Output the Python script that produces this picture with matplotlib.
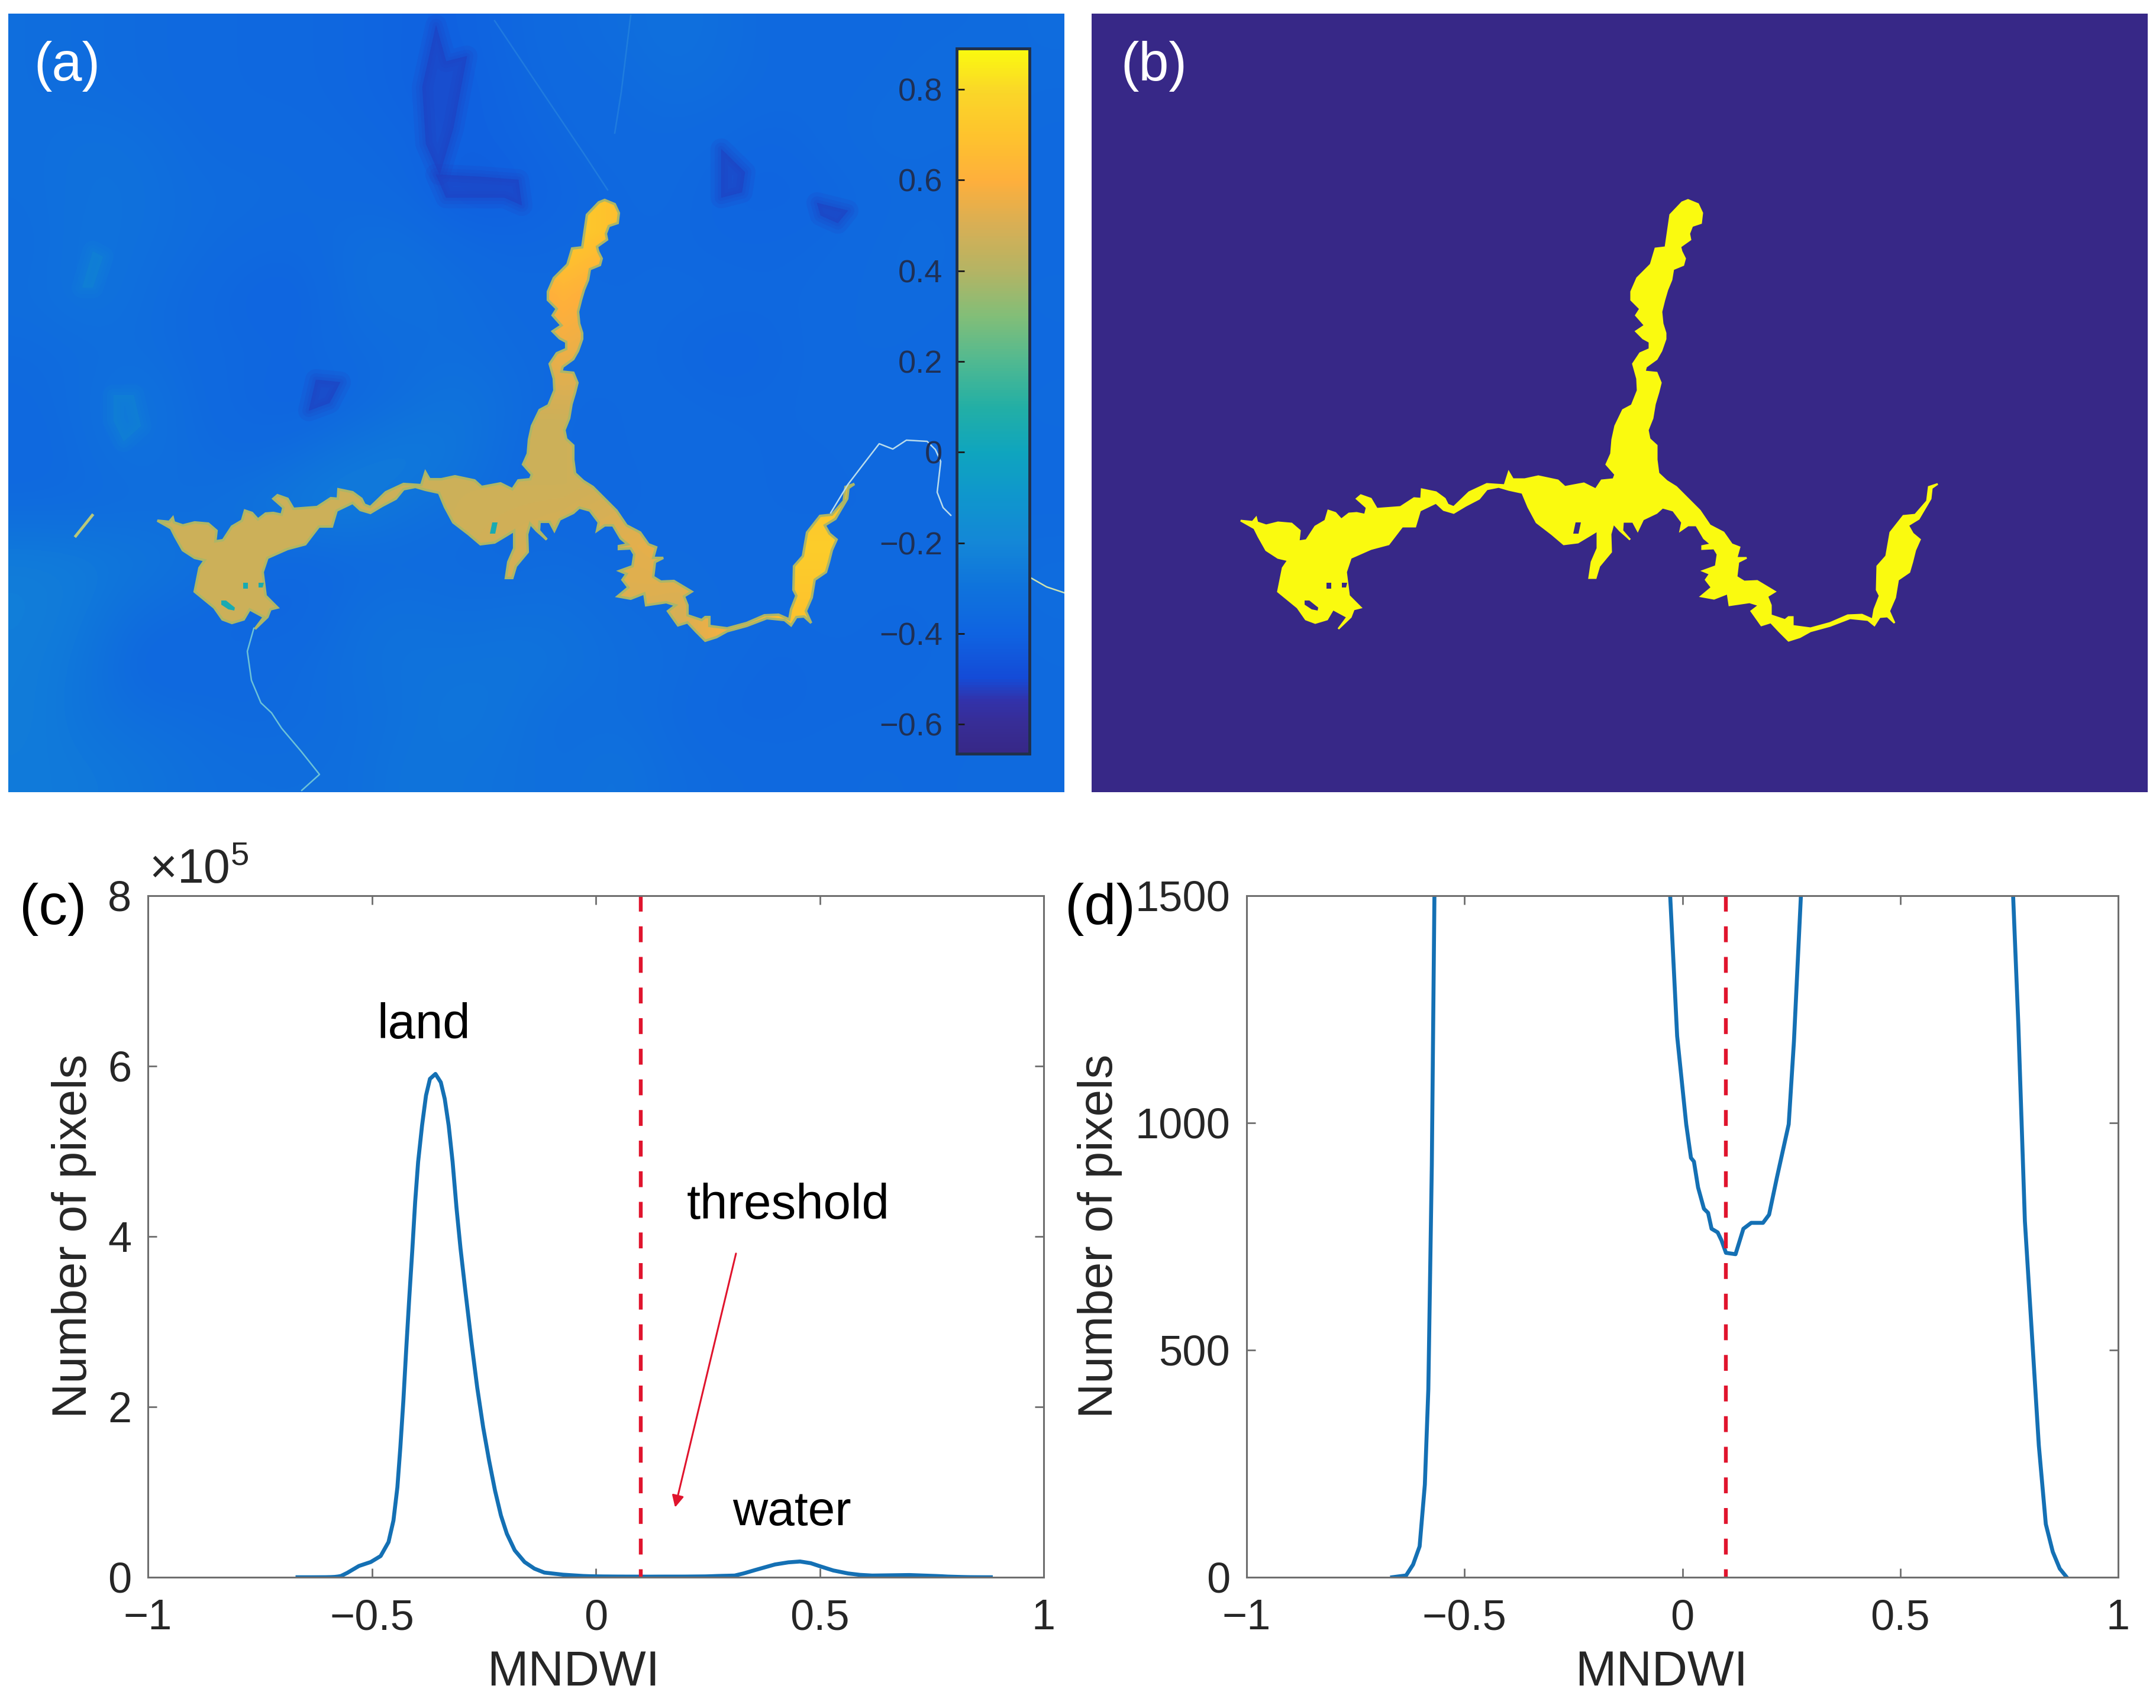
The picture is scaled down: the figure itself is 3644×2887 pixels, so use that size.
import numpy as np
import matplotlib
matplotlib.use("Agg")
import matplotlib.pyplot as plt
from matplotlib.colors import LinearSegmentedColormap, Normalize
from matplotlib.patches import Polygon

plt.rcParams["font.family"] = ["Liberation Sans", "DejaVu Sans"]
plt.rcParams["mathtext.default"] = "regular"
plt.rcParams["mathtext.fontset"] = "custom"
plt.rcParams["mathtext.rm"] = "Liberation Sans"

W, H = 3644, 2887

# MNDWI histogram, number of pixels per value
CURVE_X = [-.666, -.634, -.618, -.603, -.591, -.583, -.575, -.569, -.5552, -.5288, -.5024, -.4804, -.4628, -.4518,
           -.4430, -.4364, -.4297, -.4231, -.4165, -.4099, -.4033, -.3967, -.3879, -.3791, -.3703, -.3580, -.3461,
           -.3373, -.3285, -.3197, -.3109, -.3021, -.2911, -.2779, -.2647, -.2514, -.2382, -.2250, -.2118, -.1986,
           -.1810, -.1590, -.1370, -.1149, -.073, -.028, -.012, .0088, .0197, .0265, .036,
           .0495, .059, .067, .081, .09, .10, .122, .14, .158, .185, .199, .217, .244, .256, .272, .31, .33, .356, .40,
           .43, .456, .48, .50, .53, .563, .59, .617, .70, .759, .771, .786, .802, .818, .834, .85, .866, .882]
CURVE_Y = [0, 4, 28, 68, 204, 414, 907, 1500, 5070, 13250, 17900, 24900, 41300, 66600,
           105600, 152400, 206900, 269300, 327700, 382300, 440700, 487500, 530400, 565500, 585000, 590800, 581000,
           561600, 530400, 487500, 433000, 386200, 335500, 277100, 222500, 175800, 136800, 101700, 72500, 51100,
           31600, 17900, 10100, 5500, 3000, 1500, 1191, 997, 923, 915, 858,
           811, 802, 767, 759, 741, 714, 711, 767, 780, 780, 798, 880, 997, 1179, 1500, 2000, 4500, 8500, 15000,
           17500, 18500, 16500, 13000, 8000, 4500, 2800, 2000, 2600, 1500, 1216, 784, 537, 290, 117, 56, 19, 0]
THRESHOLD = 0.1

X_TICKS = [-1, -0.5, 0, 0.5, 1]
X_LABELS = ["\u22121", "\u22120.5", "0", "0.5", "1"]
C_Y_TICKS = [0, 2e5, 4e5, 6e5, 8e5]
C_Y_LABELS = ["0", "2", "4", "6", "8"]
D_Y_TICKS = [0, 500, 1000, 1500]
D_Y_LABELS = ["0", "500", "1000", "1500"]
CBAR_TICKS = [-0.6, -0.4, -0.2, 0, 0.2, 0.4, 0.6, 0.8]
CBAR_LABELS = ["\u22120.6", "\u22120.4", "\u22120.2", "0", "0.2", "0.4", "0.6", "0.8"]

# colours
CMAP_VALUES = [-.665, -.6, -.55, -.5, -.4, -.3, -.2, -.1, 0, .1, .2, .3, .4, .5, .6, .7, .8, .89]
CMAP_COLORS = [(55, 40, 135), (55, 45, 150), (50, 50, 170), (20, 75, 215), (15, 100, 225), (15, 115, 220),
               (20, 135, 215), (15, 150, 205), (15, 165, 190), (35, 175, 165), (80, 185, 145), (130, 190, 120),
               (180, 180, 100), (215, 175, 85), (254, 175, 60), (254, 195, 45), (250, 215, 40), (250, 250, 15)]

# land MNDWI estimated on a coarse grid, top row first
LAND = [
    [-.33, -.34, -.35, -.36, -.37, -.37, -.38, -.40, -.41, -.38, -.35, -.34, -.31, -.33, -.36, -.37, -.36, -.35, -.35, -.34],
    [-.33, -.34, -.35, -.36, -.37, -.37, -.38, -.40, -.42, -.39, -.36, -.36, -.33, -.34, -.36, -.36, -.35, -.34, -.34, -.35],
    [-.33, -.31, -.32, -.35, -.36, -.36, -.37, -.38, -.41, -.40, -.37, -.36, -.36, -.37, -.39, -.36, -.34, -.35, -.35, -.36],
    [-.33, -.31, -.31, -.34, -.34, -.35, -.36, -.37, -.43, -.42, -.39, -.37, -.36, -.39, -.39, -.39, -.36, -.35, -.36, -.36],
    [-.34, -.30, -.32, -.34, -.36, -.37, -.33, -.32, -.36, -.38, -.37, -.37, -.37, -.38, -.38, -.37, -.35, -.34, -.36, -.36],
    [-.33, -.30, -.33, -.36, -.39, -.40, -.33, -.32, -.33, -.36, -.36, -.37, -.36, -.36, -.37, -.36, -.35, -.35, -.36, -.35],
    [-.35, -.34, -.33, -.36, -.37, -.38, -.35, -.34, -.33, -.35, -.36, -.36, -.37, -.40, -.38, -.36, -.35, -.36, -.37, -.36],
    [-.36, -.33, -.29, -.35, -.38, -.40, -.37, -.33, -.29, -.33, -.37, -.37, -.36, -.37, -.37, -.36, -.37, -.37, -.36, -.35],
    [-.37, -.34, -.31, -.34, -.36, -.33, -.28, -.25, -.28, -.35, -.37, -.37, -.36, -.36, -.37, -.37, -.36, -.35, -.36, -.36],
    [-.35, -.35, -.34, -.33, -.30, -.26, -.24, -.30, -.33, -.35, -.37, -.38, -.36, -.36, -.37, -.37, -.37, -.36, -.36, -.36],
    [-.25, -.26, -.28, -.31, -.35, -.37, -.36, -.35, -.35, -.36, -.34, -.36, -.35, -.36, -.36, -.36, -.36, -.36, -.35, -.34],
    [-.24, -.27, -.33, -.35, -.38, -.39, -.33, -.31, -.33, -.32, -.32, -.34, -.35, -.35, -.37, -.36, -.37, -.37, -.35, -.34],
    [-.25, -.29, -.38, -.38, -.36, -.35, -.32, -.30, -.30, -.29, -.30, -.33, -.34, -.36, -.38, -.37, -.37, -.37, -.36, -.35],
    [-.25, -.30, -.33, -.34, -.36, -.35, -.33, -.31, -.28, -.30, -.34, -.33, -.35, -.38, -.38, -.37, -.37, -.36, -.36, -.35],
    [-.26, -.27, -.29, -.32, -.33, -.33, -.33, -.29, -.30, -.31, -.33, -.30, -.34, -.35, -.36, -.36, -.35, -.36, -.35, -.35],
]

# darker and lighter land patches too small for the grid
DARK_1_X = [2568, 2585, 2620, 2597, 2574, 2551, 2545]
DARK_1_Y = [43, 104, 95, 217, 295, 243, 147]
DARK_2_X = [2568, 2644, 2707, 2713, 2684, 2585]
DARK_2_Y = [295, 299, 304, 347, 334, 334]
DARK_3_X = [2365, 2406, 2388, 2353]
DARK_3_Y = [642, 646, 681, 694]
DARK_4_X = [3050, 3090, 3085, 3050]
DARK_4_Y = [252, 291, 325, 334]
DARK_5_X = [3212, 3264, 3247, 3218]
DARK_5_Y = [343, 356, 377, 364]
LIGHT_1_X = [2023, 2057, 2069, 2040, 2023]
LIGHT_1_Y = [668, 668, 720, 746, 711]
LIGHT_2_X = [1970, 1988, 2005, 1988]
LIGHT_2_Y = [486, 425, 434, 486]
DARK_VALUE = -0.52
LIGHT_VALUE = -0.18

# water MNDWI estimated over the lake bounding box
LAKE_VALUES = [
    [.48, .48, .48, .75, .60, .60],
    [.48, .48, .48, .62, .50, .50],
    [.48, .48, .48, .55, .50, .50],
    [.47, .47, .47, .47, .50, .50],
    [.46, .47, .47, .47, .50, .68],
    [.47, .47, .47, .50, .55, .75],
    [.47, .47, .47, .53, .50, .70],
]
LAKE_EDGE_VALUE = 0.38

# lake outline, image pixels
LAKE_NORTH_EAST = [(2853, 338), (2870, 345), (2877, 360), (2875, 377), (2860, 382), (2855, 395), (2857, 405), (2840, 417),
                   (2842, 425), (2848, 437), (2845, 448), (2828, 455), (2825, 473), (2818, 490), (2813, 507), (2808, 527),
                   (2810, 547), (2815, 563), (2815, 573), (2808, 593), (2800, 607), (2782, 620), (2780, 628), (2800, 630),
                   (2807, 647), (2803, 663), (2797, 683), (2793, 707), (2785, 727), (2788, 742), (2800, 753), (2800, 777),
                   (2803, 800), (2817, 813), (2833, 823), (2853, 843), (2873, 863), (2890, 888), (2913, 900), (2927, 920)]
LAKE_EAST = [(2940, 925), (2935, 943), (2952, 943), (2938, 950), (2935, 975), (2948, 983), (2970, 982), (3000, 1000),
             (2987, 1008), (2993, 1023), (2993, 1040), (3017, 1048), (3023, 1043), (3030, 1043), (3030, 1058), (3060, 1062),
             (3093, 1053), (3123, 1040), (3147, 1039), (3165, 1047), (3168, 1030), (3177, 1007), (3172, 997), (3173, 957),
             (3188, 940), (3195, 900), (3217, 872), (3237, 870), (3257, 847), (3260, 823), (3275, 818), (3265, 825),
             (3263, 843), (3243, 877), (3225, 888), (3233, 902), (3245, 912), (3237, 930), (3232, 950), (3227, 967),
             (3208, 980), (3203, 1010), (3193, 1033), (3202, 1053), (3190, 1042), (3177, 1043), (3168, 1057), (3157, 1048),
             (3127, 1045), (3093, 1058), (3060, 1067), (3042, 1077), (3023, 1083), (3007, 1067), (2993, 1052), (2977, 1057),
             (2960, 1033), (2973, 1023), (2957, 1018), (2923, 1023), (2920, 1003), (2897, 1012), (2875, 1008), (2893, 993),
             (2883, 980), (2890, 970), (2878, 965), (2900, 957), (2903, 937), (2897, 927), (2877, 928), (2877, 923), (2892, 920)]
LAKE_CENTRE_SOUTH = [(2880, 910), (2867, 888), (2853, 888), (2840, 897), (2843, 883), (2828, 863), (2810, 858), (2800, 867),
                     (2777, 878), (2768, 897), (2760, 882), (2743, 882), (2742, 897), (2755, 912), (2738, 897), (2727, 885),
                     (2722, 903), (2723, 933), (2703, 957), (2697, 977), (2686, 977), (2690, 950), (2700, 927), (2700, 897),
                     (2687, 905), (2667, 917), (2643, 920), (2623, 903), (2597, 883), (2583, 857), (2573, 833), (2550, 828),
                     (2533, 823), (2513, 827)]
LAKE_WEST = [(2500, 843), (2477, 855), (2457, 867), (2440, 862), (2427, 850), (2400, 863), (2392, 890), (2370, 890),
             (2347, 920), (2317, 928), (2283, 943), (2275, 967), (2280, 1007), (2293, 1020), (2300, 1027), (2288, 1030),
             (2283, 1043), (2262, 1063), (2277, 1043), (2253, 1030), (2243, 1047), (2223, 1053), (2207, 1047), (2193, 1027),
             (2160, 1000), (2168, 960), (2177, 947), (2160, 943), (2140, 930), (2127, 907), (2120, 893), (2097, 880),
             (2117, 882), (2123, 875), (2125, 883), (2140, 888), (2160, 883), (2183, 885), (2197, 897), (2195, 915),
             (2208, 913), (2223, 890), (2240, 880), (2245, 863), (2257, 867), (2267, 878), (2280, 868), (2293, 867),
             (2307, 870), (2310, 858), (2293, 843), (2300, 837), (2317, 843), (2327, 860), (2367, 857), (2390, 842),
             (2402, 843), (2403, 827), (2427, 832), (2442, 843), (2447, 853), (2457, 857), (2483, 832), (2513, 818), (2543, 820)]
LAKE_CENTRE_NORTH = [(2550, 798), (2557, 810), (2577, 810), (2600, 805), (2633, 812), (2645, 823), (2677, 817), (2697, 827),
                     (2707, 812), (2727, 810), (2730, 802), (2715, 785), (2723, 767), (2725, 743), (2730, 720), (2743, 693),
                     (2758, 685), (2768, 660), (2767, 640), (2760, 615), (2772, 597), (2788, 590), (2788, 578), (2777, 572),
                     (2765, 560), (2780, 550), (2765, 533), (2772, 522), (2757, 507), (2757, 493), (2767, 470), (2790, 447),
                     (2798, 420), (2815, 418), (2823, 363), (2843, 342)]
LAKE_HOLES = [
    [(2242, 985), (2250, 985), (2250, 995), (2242, 995)],
    [(2268, 985), (2277, 985), (2275, 993), (2268, 993)],
    [(2205, 1015), (2213, 1015), (2228, 1027), (2227, 1032), (2217, 1030), (2205, 1022)],
    [(2663, 883), (2672, 883), (2668, 902), (2659, 902)],
]

# thin rivers in panel (a), same pixels
RIVER_EAST_X = [3235, 3264, 3290, 3317, 3340, 3363, 3398, 3412, 3421, 3415, 3425, 3438]
RIVER_EAST_Y = [867, 819, 785, 750, 759, 744, 746, 760, 780, 832, 858, 871]
RIVER_EDGE_X = [3572, 3600, 3630]
RIVER_EDGE_Y = [976, 992, 1002]
RIVER_SOUTH_X = [2260, 2249, 2256, 2272, 2290, 2307, 2340, 2371, 2341]
RIVER_SOUTH_Y = [1062, 1101, 1150, 1188, 1205, 1231, 1270, 1309, 1336]
STREAK_X = [1959, 1987]
STREAK_Y = [906, 871]
TRACK_1_X = [2667, 2748, 2818, 2858]
TRACK_1_Y = [35, 156, 260, 321]
TRACK_2_X = [2897, 2881, 2870]
TRACK_2_Y = [26, 156, 225]

MAP_XLIM = (1845, 3630)
MAP_YLIM = (1339, 23)
LAKE_BOX = (2097, 3275, 1083, 338)

TEXT_DARK = "#262626"
AXES_GREY = "#6e6e6e"
LINE_BLUE = "#1470b4"
LINE_RED = "#e0142d"


def px_axes(fig, left, top, right, bottom):
    return fig.add_axes([left / W, 1 - bottom / H, (right - left) / W, (bottom - top) / H])


def fig_text(fig, x, y, s, **kw):
    fig.text(x / W, 1 - y / H, s, ha="center", va="center", **kw)


def soft_patch(ax, px, py, color, alpha):
    # a few wide translucent strokes so the patch fades out at its edge
    for lw in (26, 16, 8, 1):
        ax.fill(px, py, facecolor=color, edgecolor=color, linewidth=lw, alpha=alpha, joinstyle="round")


fig = plt.figure(figsize=(W / 100, H / 100), dpi=100, facecolor="white")

vmin, vmax = CMAP_VALUES[0], CMAP_VALUES[-1]
norm = Normalize(vmin, vmax)
parula = LinearSegmentedColormap.from_list(
    "parula_like",
    [((v - vmin) / (vmax - vmin), tuple(c / 255 for c in rgb)) for v, rgb in zip(CMAP_VALUES, CMAP_COLORS)],
    N=256,
)
lake_xy = np.array(LAKE_NORTH_EAST + LAKE_EAST + LAKE_CENTRE_SOUTH + LAKE_WEST + LAKE_CENTRE_NORTH)

# (a) MNDWI map
ax_a = px_axes(fig, 14, 23, 1799, 1339)
ax_a.imshow(np.array(LAND), cmap=parula, norm=norm, aspect="auto", interpolation="bicubic",
            extent=(MAP_XLIM[0], MAP_XLIM[1], MAP_YLIM[0], MAP_YLIM[1]))
for px, py in [(DARK_1_X, DARK_1_Y), (DARK_2_X, DARK_2_Y), (DARK_3_X, DARK_3_Y), (DARK_4_X, DARK_4_Y), (DARK_5_X, DARK_5_Y)]:
    soft_patch(ax_a, px, py, parula(norm(DARK_VALUE)), 0.16)
for px, py in [(LIGHT_1_X, LIGHT_1_Y), (LIGHT_2_X, LIGHT_2_Y)]:
    soft_patch(ax_a, px, py, parula(norm(LIGHT_VALUE)), 0.13)
ax_a.plot(TRACK_1_X, TRACK_1_Y, color="#3f9fe0", lw=1.8, alpha=0.35)
ax_a.plot(TRACK_2_X, TRACK_2_Y, color="#3f9fe0", lw=1.8, alpha=0.35)

# edge first, then the water values clipped to the outline
ax_a.add_patch(Polygon(lake_xy, closed=True, facecolor="none", edgecolor=parula(norm(LAKE_EDGE_VALUE)), linewidth=3))
outline = Polygon(lake_xy, closed=True, facecolor="none", edgecolor="none")
ax_a.add_patch(outline)
water = ax_a.imshow(np.array(LAKE_VALUES), cmap=parula, norm=norm, aspect="auto", interpolation="bilinear",
                    extent=LAKE_BOX)
water.set_clip_path(outline)
for hole in LAKE_HOLES:
    ax_a.fill(*zip(*hole), color=parula(norm(0.05)), linewidth=0)
ax_a.plot(RIVER_EAST_X, RIVER_EAST_Y, color="#b9dcec", lw=1.8)
ax_a.plot(RIVER_EDGE_X, RIVER_EDGE_Y, color="#cfe3b0", lw=1.8)
ax_a.plot(RIVER_SOUTH_X, RIVER_SOUTH_Y, color="#6cc2d8", lw=1.8)
ax_a.plot(STREAK_X, STREAK_Y, color="#b8c87a", lw=3.5)
ax_a.set_xlim(MAP_XLIM)
ax_a.set_ylim(MAP_YLIM)
ax_a.axis("off")

cax = px_axes(fig, 1617, 82, 1740, 1274)
sm = plt.cm.ScalarMappable(norm=norm, cmap=parula)
cbar = fig.colorbar(sm, cax=cax, orientation="vertical")
cax.yaxis.set_ticks_position("left")
cbar.set_ticks(CBAR_TICKS, labels=CBAR_LABELS)
cax.tick_params(axis="y", direction="in", length=9.5, width=2, color="#1a1a1a", pad=17,
                labelsize=39, labelcolor="#1f3055")
cbar.outline.set_edgecolor("#20304a")
cbar.outline.set_linewidth(3.5)

# (b) water mask
ax_b = px_axes(fig, 1845, 23, 3630, 1339)
ax_b.set_facecolor(parula(0.0))
ax_b.fill(lake_xy[:, 0], lake_xy[:, 1], facecolor=parula(1.0), edgecolor=parula(1.0), linewidth=2.2)
for hole in LAKE_HOLES:
    ax_b.fill(*zip(*hole), color=parula(0.0), linewidth=0)
ax_b.set_xlim(MAP_XLIM)
ax_b.set_ylim(MAP_YLIM)
ax_b.set_xticks([])
ax_b.set_yticks([])
for s in ax_b.spines.values():
    s.set_visible(False)

# (c) and (d) histograms
ax_c = px_axes(fig, 250, 1514, 1764, 2666)
ax_d = px_axes(fig, 2107, 1514, 3580, 2666)
for ax, yt, yl, ymax in [(ax_c, C_Y_TICKS, C_Y_LABELS, 8e5), (ax_d, D_Y_TICKS, D_Y_LABELS, 1500)]:
    ax.plot(CURVE_X, CURVE_Y, color=LINE_BLUE, lw=4.8)
    ax.plot([THRESHOLD, THRESHOLD], [ymax, 0], color=LINE_RED, lw=4.6, dashes=(4.2, 3.9))
    ax.set_xlim(-1, 1)
    ax.set_ylim(0, ymax)
    ax.set_xticks(X_TICKS, labels=X_LABELS)
    ax.set_yticks(yt, labels=yl)
    ax.tick_params(axis="both", direction="in", length=11, width=2, color=AXES_GREY, top=True, right=True,
                   labelsize=52, labelcolor=TEXT_DARK)
    ax.tick_params(axis="x", pad=26)
    ax.tick_params(axis="y", pad=20)
    for s in ax.spines.values():
        s.set_color(AXES_GREY)
        s.set_linewidth(2.2)

ax_c.text(-0.384, 6.48e5, "land", ha="center", va="center", fontsize=60, color="black")
ax_c.text(0.43, 4.36e5, "threshold", ha="center", va="center", fontsize=60, color="black")
ax_c.text(0.4375, 0.76e5, "water", ha="center", va="center", fontsize=59, color="black")
ax_c.annotate("", xy=(0.177, 0.82e5), xytext=(0.313, 3.8e5),
              arrowprops=dict(arrowstyle="-|>", color=LINE_RED, lw=2.2, mutation_scale=30, shrinkA=0, shrinkB=0))

fig_text(fig, 336, 1472, "\u00d710$^{5}$", fontsize=58, color=TEXT_DARK)
fig_text(fig, 969, 2827, "MNDWI", fontsize=60, color=TEXT_DARK)
fig_text(fig, 2808, 2827, "MNDWI", fontsize=60, color=TEXT_DARK)
fig_text(fig, 125, 2089, "Number of pixels", fontsize=59, color=TEXT_DARK, rotation=90)
fig_text(fig, 1859, 2089, "Number of pixels", fontsize=59, color=TEXT_DARK, rotation=90)

fig_text(fig, 113, 112, "(a)", fontsize=66, color="white")
fig_text(fig, 1950, 112, "(b)", fontsize=66, color="white")
fig_text(fig, 90, 1537, "(c)", fontsize=70, color="black")
fig_text(fig, 1859, 1537, "(d)", fontsize=70, color="black")

plt.savefig("out.png", dpi=100)
plt.close()
